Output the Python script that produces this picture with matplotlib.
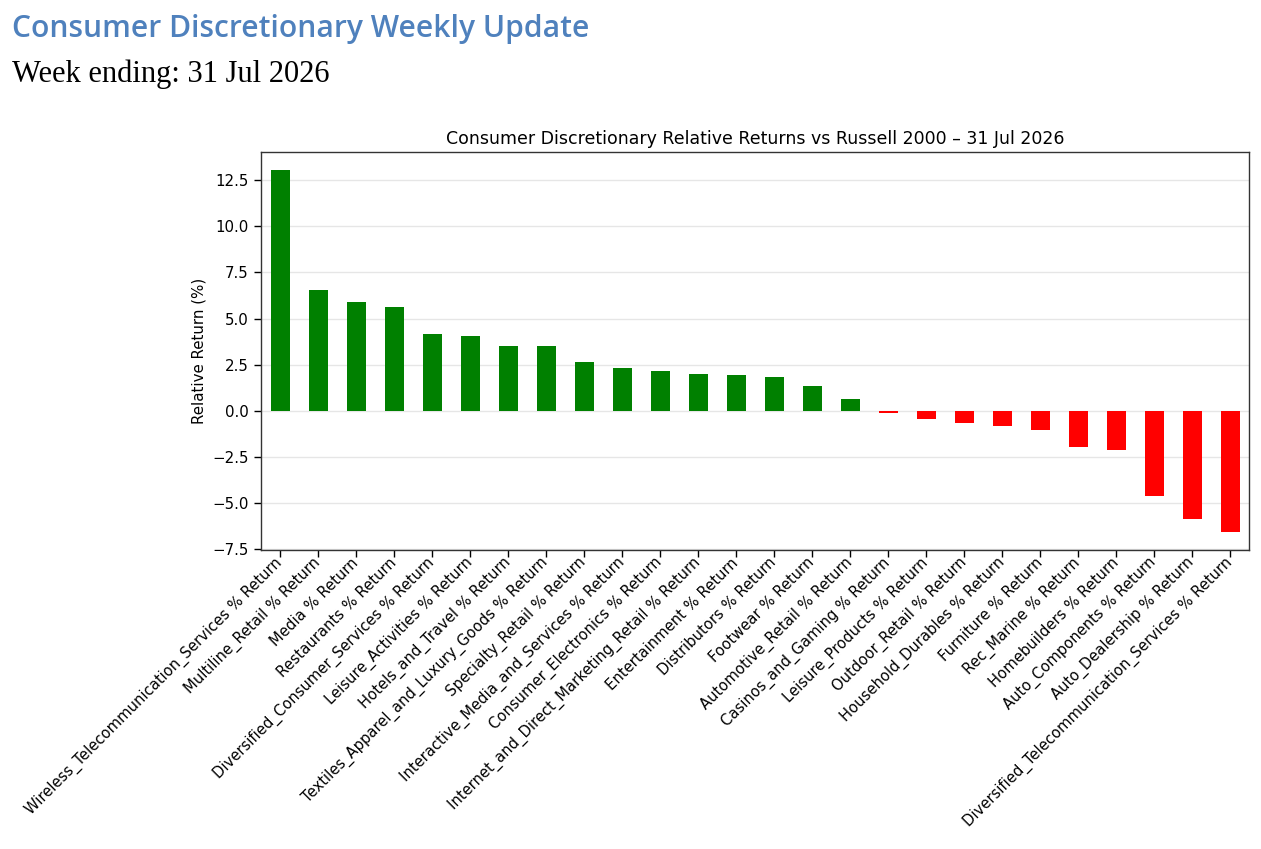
import matplotlib
matplotlib.use("Agg")
import matplotlib.pyplot as plt
import numpy as np

categories = [
    "Wireless_Telecommunication_Services % Return",
    "Multiline_Retail % Return",
    "Media % Return",
    "Restaurants % Return",
    "Diversified_Consumer_Services % Return",
    "Leisure_Activities % Return",
    "Hotels_and_Travel % Return",
    "Textiles_Apparel_and_Luxury_Goods % Return",
    "Specialty_Retail % Return",
    "Interactive_Media_and_Services % Return",
    "Consumer_Electronics % Return",
    "Internet_and_Direct_Marketing_Retail % Return",
    "Entertainment % Return",
    "Distributors % Return",
    "Footwear % Return",
    "Automotive_Retail % Return",
    "Casinos_and_Gaming % Return",
    "Leisure_Products % Return",
    "Outdoor_Retail % Return",
    "Household_Durables % Return",
    "Furniture % Return",
    "Rec_Marine % Return",
    "Homebuilders % Return",
    "Auto_Components % Return",
    "Auto_Dealership % Return",
    "Diversified_Telecommunication_Services % Return",
]
values = [13.04, 6.56, 5.89, 5.60, 4.16, 4.05, 3.53, 3.52, 2.65, 2.32, 2.13, 2.00,
          1.96, 1.84, 1.35, 0.63, -0.13, -0.45, -0.65, -0.81, -1.05, -1.95, -2.14,
          -4.61, -5.87, -6.56]

header_title = "Consumer Discretionary Weekly Update"
header_sub = "Week ending: 31 Jul 2026"
chart_title = "Consumer Discretionary Relative Returns vs Russell 2000 \u2013 31 Jul 2026"
ylabel = "Relative Return (%)"

W, H = 1261, 849
fig = plt.figure(figsize=(W / 100, H / 100), dpi=100)
fig.patch.set_facecolor("white")

L, R, T, B = 261, 1249, 152, 550
ax = fig.add_axes([L / W, 1 - B / H, (R - L) / W, (B - T) / H])
x = np.arange(len(values))
colors = ["green" if v >= 0 else "red" for v in values]
ax.bar(x, values, width=0.5, color=colors, zorder=2)
ax.set_xlim(-0.5, len(values) - 0.5)
ax.set_yticks([-7.5, -5.0, -2.5, 0.0, 2.5, 5.0, 7.5, 10.0, 12.5])
ax.yaxis.grid(True, color="#e6e6e6", linewidth=1.0, zorder=0)
ax.set_axisbelow(True)
ax.set_xticks(x)
ax.set_xticklabels(categories, rotation=45, ha="right", va="center",
                   rotation_mode="anchor", fontsize=10.6)
ax.tick_params(axis="y", labelsize=10.8, length=5, width=1.0, pad=4)
ax.tick_params(axis="x", length=5, width=1.0, pad=2.5)
ax.set_ylabel(ylabel, fontsize=10.8)
ax.set_title(chart_title, fontsize=12.5, pad=6)
for s in ax.spines.values():
    s.set_color("#333333")
    s.set_linewidth(1.0)

# Header texts, sized to fit the reference widths
fig.canvas.draw()
renderer = fig.canvas.get_renderer()

def fit_text(txt, x0, ybase, target_w, size0, **kw):
    t = fig.text(x0 / W, 1 - ybase / H, txt, fontsize=size0, va="baseline", ha="left", **kw)
    bb = t.get_window_extent(renderer=renderer)
    t.set_fontsize(size0 * target_w / bb.width)
    return t

fit_text(header_title, 12, 37, 575, 22, family="Open Sans", fontweight="semibold", color="#4F81BD")
fit_text(header_sub, 12, 82, 319, 18, family="Liberation Serif", color="black")

fig.savefig("out.png", dpi=100, facecolor="white")
